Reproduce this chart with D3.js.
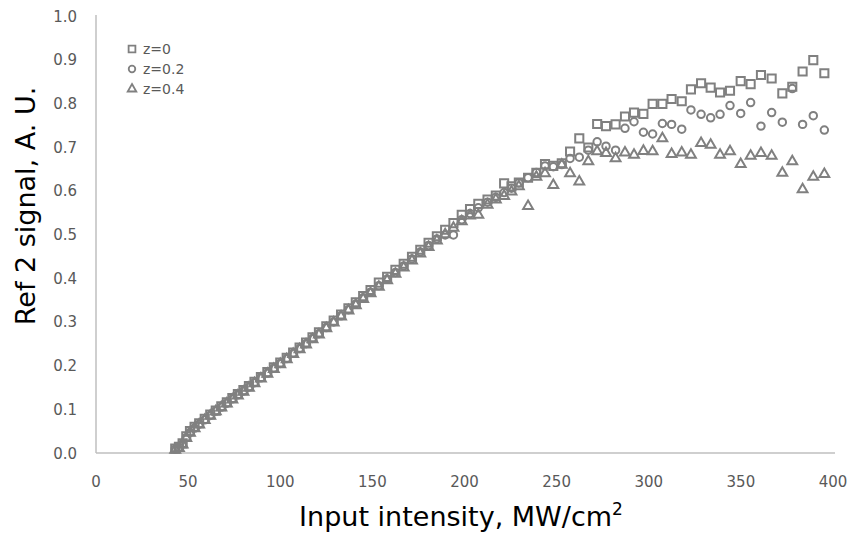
<!DOCTYPE html>
<html>
<head>
<meta charset="utf-8">
<script src="https://cdn.jsdelivr.net/npm/d3@7"></script>
<style>
body { margin: 0; background: #fff; }
text { font-family: "DejaVu Sans", Verdana, sans-serif; }
</style>
</head>
<body>
<svg id="chart"></svg>
<script>
// shared input intensities, MW/cm2
var intensity = [43, 45, 47, 49, 51, 53.5, 56, 59, 62, 65,
	68, 71, 74, 77, 80, 83, 86, 89.5, 93, 96.5,
	100, 103.5, 107, 110.5, 114, 117.5, 121, 125, 129, 133,
	137, 141, 145, 149, 153.5, 158, 162.5, 167, 171.5, 176,
	180.5, 185, 189.5, 194, 198.5, 203, 207.5, 212.5, 217, 221.5,
	225.5, 229.5, 234.5, 239, 243.7, 248.2, 252.8, 257.3, 262.3, 267.2,
	272, 276.8, 282, 287.1, 292, 297.1, 302.1, 307.4, 312.4, 317.9,
	322.9, 328.4, 333.6, 338.7, 344.1, 349.9, 355.3, 360.9, 366.7, 372.5,
	377.9, 383.5, 389.3, 395.3];

var z0 = [0.010, 0.014, 0.022, 0.038, 0.050, 0.060, 0.068, 0.078, 0.088, 0.097,
	0.107, 0.116, 0.126, 0.135, 0.144, 0.153, 0.163, 0.174, 0.185, 0.196,
	0.207, 0.218, 0.230, 0.241, 0.253, 0.265, 0.276, 0.290, 0.303, 0.317,
	0.331, 0.345, 0.359, 0.373, 0.390, 0.403, 0.419, 0.433, 0.449, 0.465,
	0.481, 0.496, 0.511, 0.526, 0.545, 0.558, 0.570, 0.580, 0.589, 0.617,
	0.610, 0.619, 0.630, 0.641, 0.661, 0.657, 0.663, 0.690, 0.720, 0.699,
	0.753, 0.748, 0.752, 0.770, 0.779, 0.776, 0.799, 0.799, 0.810, 0.805,
	0.832, 0.846, 0.836, 0.825, 0.829, 0.851, 0.844, 0.865, 0.857, 0.823,
	0.838, 0.873, 0.899, 0.869];

var z02 = [0.009, 0.013, 0.021, 0.035, 0.047, 0.057, 0.066, 0.076, 0.086, 0.096,
	0.105, 0.114, 0.124, 0.133, 0.142, 0.151, 0.161, 0.172, 0.183, 0.194,
	0.205, 0.216, 0.228, 0.239, 0.250, 0.262, 0.273, 0.287, 0.300, 0.314,
	0.328, 0.341, 0.355, 0.368, 0.383, 0.398, 0.413, 0.428, 0.444, 0.460,
	0.475, 0.490, 0.499, 0.499, 0.534, 0.548, 0.561, 0.574, 0.585, 0.596,
	0.606, 0.618, 0.630, 0.642, 0.657, 0.655, 0.660, 0.674, 0.677, 0.693,
	0.712, 0.702, 0.693, 0.743, 0.758, 0.734, 0.730, 0.754, 0.752, 0.741,
	0.785, 0.775, 0.767, 0.775, 0.795, 0.777, 0.802, 0.748, 0.779, 0.757,
	0.834, 0.752, 0.772, 0.739];

var z04 = [0.007, 0.011, 0.019, 0.034, 0.046, 0.056, 0.065, 0.075, 0.085, 0.095,
	0.104, 0.113, 0.122, 0.131, 0.140, 0.149, 0.159, 0.170, 0.181, 0.192,
	0.203, 0.214, 0.226, 0.237, 0.248, 0.260, 0.271, 0.285, 0.298, 0.312,
	0.326, 0.338, 0.352, 0.365, 0.380, 0.395, 0.410, 0.424, 0.440, 0.456,
	0.471, 0.486, 0.500, 0.515, 0.530, 0.543, 0.545, 0.568, 0.580, 0.588,
	0.598, 0.610, 0.565, 0.632, 0.640, 0.613, 0.659, 0.640, 0.621, 0.667,
	0.690, 0.686, 0.674, 0.687, 0.682, 0.691, 0.690, 0.720, 0.684, 0.687,
	0.682, 0.709, 0.705, 0.682, 0.690, 0.661, 0.680, 0.686, 0.680, 0.641,
	0.667, 0.603, 0.632, 0.638];

var seriesNames = ["z=0", "z=0.2", "z=0.4"];
var xTicks = [0, 50, 100, 150, 200, 250, 300, 350, 400];
var yTicks = [0, 0.1, 0.2, 0.3, 0.4, 0.5, 0.6, 0.7, 0.8, 0.9, 1.0];

var screen = {width: 851, height: 536};
var plot = {left: 96, right: 833, top: 16, bottom: 453};
var grey = "#808080";

var svg = d3.select("#chart")
	.attr("width", screen.width)
	.attr("height", screen.height);

var xScale = d3.scaleLinear().domain([0, 400]).range([plot.left, plot.right]);
var yScale = d3.scaleLinear().domain([0, 1]).range([plot.bottom, plot.top]);

//---------axes---------
svg.append("line")
	.attr("x1", plot.left).attr("x2", plot.left)
	.attr("y1", plot.top - 1).attr("y2", plot.bottom)
	.attr("stroke", "#bfbfbf").attr("stroke-width", 1.5);
svg.append("line")
	.attr("x1", plot.left).attr("x2", plot.right + 2)
	.attr("y1", plot.bottom).attr("y2", plot.bottom)
	.attr("stroke", "#bfbfbf").attr("stroke-width", 1.5);

svg.append("g").selectAll("text")
	.data(xTicks)
	.enter()
	.append("text")
	.attr("x", function(d) { return xScale(d); })
	.attr("y", 486.5)
	.attr("text-anchor", "middle")
	.attr("font-size", 15)
	.attr("fill", "#595959")
	.text(function(d) { return d; });

svg.append("g").selectAll("text")
	.data(yTicks)
	.enter()
	.append("text")
	.attr("x", 77)
	.attr("y", function(d) { return yScale(d) + 5.5; })
	.attr("text-anchor", "end")
	.attr("font-size", 15)
	.attr("fill", "#595959")
	.text(function(d) { return d.toFixed(1); });

//---------titles---------
var xt = svg.append("text")
	.attr("x", 461)
	.attr("y", 526)
	.attr("text-anchor", "middle")
	.attr("font-size", 27)
	.attr("fill", "#000");
xt.append("tspan").text("Input intensity, MW/cm");
xt.append("tspan").attr("font-size", 17).attr("dy", -11).text("2");

svg.append("text")
	.attr("transform", "translate(35,206) rotate(-90)")
	.attr("text-anchor", "middle")
	.attr("font-size", 27)
	.attr("fill", "#000")
	.text("Ref 2 signal, A. U.");

//---------markers---------
var symbols = [
	d3.symbol().type(d3.symbolSquare).size(66),
	d3.symbol().type(d3.symbolCircle).size(44),
	d3.symbol().type(d3.symbolTriangle).size(42)
];
var allSeries = [z0, z02, z04];

allSeries.forEach(function(values, i)
{
	svg.append("g").selectAll("path")
		.data(values)
		.enter()
		.append("path")
		.attr("d", symbols[i])
		.attr("transform", function(v, j)
		{
			return "translate(" + xScale(intensity[j]) + "," + yScale(v) + ")";
		})
		.attr("fill", "none")
		.attr("stroke", grey)
		.attr("stroke-width", 2);
});

//---------legend---------
var legendSymbols = [
	d3.symbol().type(d3.symbolSquare).size(46),
	d3.symbol().type(d3.symbolCircle).size(34),
	d3.symbol().type(d3.symbolTriangle).size(32)
];
var legend = svg.append("g");
seriesNames.forEach(function(name, i)
{
	legend.append("path")
		.attr("d", legendSymbols[i])
		.attr("transform", "translate(132," + (49 + i * 20) + ")")
		.attr("fill", "none")
		.attr("stroke", grey)
		.attr("stroke-width", 1.8);
	legend.append("text")
		.attr("x", 143)
		.attr("y", 54 + i * 20)
		.attr("font-size", 14)
		.attr("fill", "#595959")
		.text(name);
});
</script>
</body>
</html>
